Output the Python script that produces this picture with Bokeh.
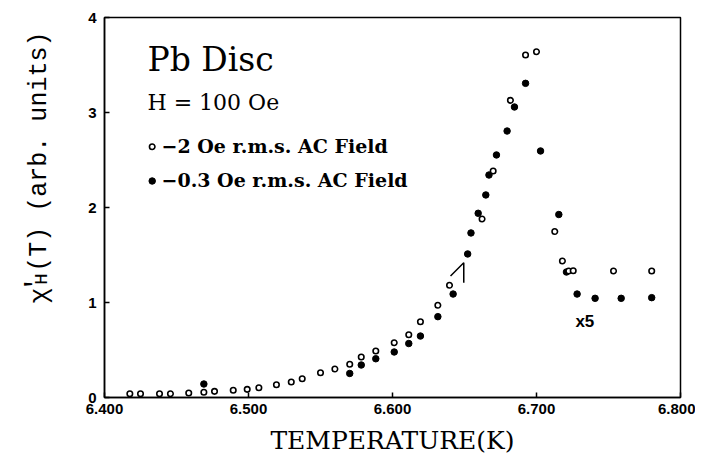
import math
from bokeh.plotting import figure
from bokeh.layouts import row
from bokeh.models import Label, FixedTicker, NumeralTickFormatter
from bokeh.embed import file_html
from bokeh.resources import INLINE

# ~2 Oe r.m.s. AC field (open circles)
T_open = [6.4176, 6.4250, 6.4382, 6.4458, 6.4585, 6.4690, 6.4764, 6.4894, 6.4991, 6.5072,
          6.5194, 6.5297, 6.5373, 6.5500, 6.5600, 6.5703, 6.5783, 6.5884, 6.6012, 6.6113,
          6.6194, 6.6315, 6.6396, 6.6622, 6.6699, 6.6819, 6.6924, 6.7000, 6.7127, 6.7180,
          6.7224, 6.7255, 6.7535, 6.7800]
chi_open = [0.040, 0.040, 0.040, 0.040, 0.047, 0.055, 0.065, 0.076, 0.086, 0.103,
            0.135, 0.163, 0.198, 0.261, 0.300, 0.350, 0.426, 0.489, 0.577, 0.661,
            0.798, 0.971, 1.181, 1.879, 2.384, 3.128, 3.605, 3.640, 1.747, 1.437,
            1.332, 1.335, 1.332, 1.332]

# ~0.3 Oe r.m.s. AC field (filled circles)
T_filled = [6.4690, 6.5703, 6.5783, 6.5884, 6.6012, 6.6113, 6.6194, 6.6315, 6.6421, 6.6522,
            6.6545, 6.6595, 6.6648, 6.6670, 6.6722, 6.6796, 6.6847, 6.6924, 6.7028, 6.7155,
            6.7208, 6.7282, 6.7407, 6.7588, 6.7800]
chi_filled = [0.142, 0.253, 0.342, 0.408, 0.479, 0.568, 0.647, 0.851, 1.089, 1.511,
              1.732, 1.939, 2.132, 2.342, 2.553, 2.805, 3.058, 3.307, 2.595, 1.926,
              1.321, 1.089, 1.044, 1.044, 1.051]

x_ticks = [6.4, 6.5, 6.6, 6.7, 6.8]
y_ticks = [0, 1, 2, 3, 4]

# hand-drawn arrow and "x5" note
arrow_T = [6.6403, 6.6495, 6.6495]
arrow_chi = [1.279, 1.419, 1.208]
note_T = 6.7270
note_chi = 0.805

H = 465
SW = 82  # width of the strip carrying the rotated y title

# ---------------- strip holding the rotated y title ----------------
pl = figure(width=SW, height=H, x_range=(0, SW), y_range=(0, H),
            output_backend="svg", toolbar_location=None,
            x_axis_type=None, y_axis_type=None,
            min_border_left=0, min_border_right=0, min_border_top=0, min_border_bottom=0)
pl.grid.visible = False
pl.outline_line_color = None
pl.background_fill_color = "white"
pl.border_fill_color = "white"

a = math.pi / 2
mono = "Liberation Mono"

def ylab(text, x, y, size):
    pl.add_layout(Label(text=text, x=x, y=y, text_font=mono, text_font_size=size,
                        text_color="black", angle=a, text_align="left",
                        text_baseline="alphabetic"))

ylab("χ", 39, H - 350, "26px")
ylab("′", 35, H - 336, "26px")
ylab("H", 41, H - 327, "19px")
ylab("(T) (arb. units)", 39, H - 311, "25px")

# ---------------- main plot ----------------
p = figure(width=695 - SW, height=H, x_range=(6.4, 6.8), y_range=(0, 4),
           output_backend="svg", toolbar_location=None,
           min_border_left=104 - SW, min_border_right=15, min_border_top=17, min_border_bottom=68)
p.grid.visible = False
p.background_fill_color = "white"
p.border_fill_color = "white"
p.outline_line_color = "black"
p.outline_line_width = 1.5
p.outline_line_alpha = 1.0

for ax in (p.xaxis, p.yaxis):
    ax.axis_line_color = "black"
    ax.axis_line_width = 1.5
    ax.major_tick_in = 5
    ax.major_tick_out = 0
    ax.major_tick_line_width = 1.5
    ax.minor_tick_line_color = None
    ax.major_label_text_font = "Liberation Sans"
    ax.major_label_text_font_style = "bold"
    ax.major_label_text_font_size = "15px"
    ax.major_label_text_color = "black"

p.xaxis.ticker = FixedTicker(ticks=x_ticks)
p.yaxis.ticker = FixedTicker(ticks=y_ticks)
p.xaxis.formatter = NumeralTickFormatter(format="0.000")
p.xaxis.major_label_standoff = 6
p.yaxis.major_label_standoff = 8

p.xaxis.axis_label = "TEMPERATURE(K)"
p.xaxis.axis_label_text_font = "DejaVu Serif"
p.xaxis.axis_label_text_font_style = "normal"
p.xaxis.axis_label_text_font_size = "25px"
p.xaxis.axis_label_text_color = "black"
p.xaxis.axis_label_standoff = 9

p.line(arrow_T, arrow_chi, line_color="black", line_width=1.5)

p.scatter(T_filled, chi_filled, size=6.5, marker="circle", fill_color="black", line_color="black")
p.scatter(T_open, chi_open, size=5.5, marker="circle", fill_color="white", line_color="black", line_width=1.6)

serif = "DejaVu Serif"

def lab(text, x, y, size, font=serif, style="normal"):
    p.add_layout(Label(text=text, x=x, y=y, x_units="screen", y_units="screen",
                       text_font=font, text_font_size=size, text_font_style=style,
                       text_color="black", text_align="left", text_baseline="alphabetic"))

lab("Pb Disc", 43, 338, "33px")
lab("H = 100 Oe", 43, 295, "22px")
lab("−2 Oe r.m.s. AC Field", 57, 252, "19px", style="bold")
lab("−0.3 Oe r.m.s. AC Field", 57, 218, "19px", style="bold")

# legend markers
p.scatter([6.4 + 47.7 / 1440.0], [250.8 / 95.0], size=5.5, marker="circle", fill_color="white",
          line_color="black", line_width=1.6)
p.scatter([6.4 + 47.7 / 1440.0], [216.5 / 95.0], size=6.5, marker="circle", fill_color="black",
          line_color="black")

p.add_layout(Label(text="x5", x=note_T, y=note_chi, text_font="Liberation Sans",
                   text_font_style="bold", text_font_size="17px", text_color="black",
                   text_align="left", text_baseline="middle"))

layout = row(pl, p, spacing=0)
open("out.html", "w").write(file_html(layout, INLINE))
